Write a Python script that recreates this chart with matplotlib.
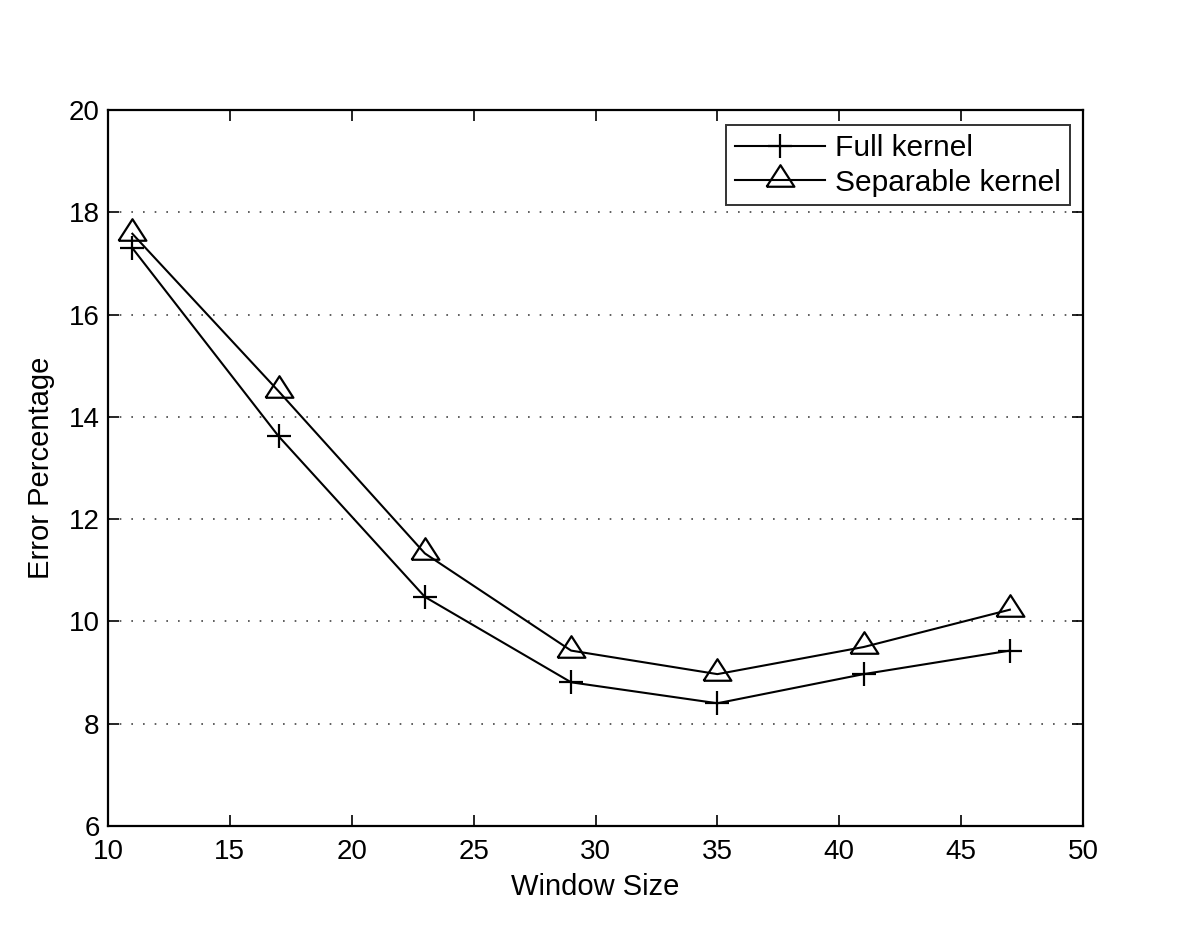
import matplotlib
matplotlib.use("Agg")
import matplotlib.pyplot as plt

window_size = [11, 17, 23, 29, 35, 41, 47]
full_kernel = [17.30, 13.62, 10.48, 8.81, 8.40, 8.97, 9.43]
separable_kernel = [17.58, 14.50, 11.33, 9.43, 8.97, 9.50, 10.23]
x_ticks = [10, 15, 20, 25, 30, 35, 40, 45, 50]
y_ticks = [6, 8, 10, 12, 14, 16, 18, 20]

plt.rcParams['font.family'] = ['Liberation Sans', 'DejaVu Sans']

fig = plt.figure(figsize=(12, 9.32), dpi=100)
ax = fig.add_axes([0.09, 0.1137, 0.8125, 0.7683])

tri = [(-1, -0.45), (1, -0.45), (0, 1.1), (-1, -0.45)]

ax.plot(window_size, full_kernel, color='black', lw=1.5, marker='+',
        markersize=17, markeredgewidth=1.6, label='Full kernel')
ax.plot(window_size, separable_kernel, color='black', lw=1.5, marker=tri,
        markersize=22, markeredgewidth=1.6, markerfacecolor='none',
        label='Separable kernel')

ax.set_xlim(10, 50)
ax.set_ylim(6, 20)
ax.set_xticks(x_ticks)
ax.set_yticks(y_ticks)
ax.tick_params(direction='in', length=8, width=1.2, top=True, right=True,
               labelsize=20)
ax.tick_params(axis='x', pad=9)
ax.tick_params(axis='y', pad=6)
for s in ax.spines.values():
    s.set_linewidth(1.6)
ax.yaxis.grid(True, linestyle=(0, (1, 6)), color='#444444', linewidth=1.2)
ax.set_axisbelow(True)

ax.set_xlabel('Window Size', fontsize=21, labelpad=6)
ax.set_ylabel('Error Percentage', fontsize=21, labelpad=10)

leg = ax.legend(loc='upper right', fontsize=21.5, frameon=True, fancybox=False,
                edgecolor='black', handlelength=3.0, borderpad=0.3,
                labelspacing=0.22, handletextpad=0.35, borderaxespad=0,
                bbox_to_anchor=(0.9867, 0.979))
leg.get_frame().set_linewidth(1.4)

fig.savefig('out.png', dpi=100)
